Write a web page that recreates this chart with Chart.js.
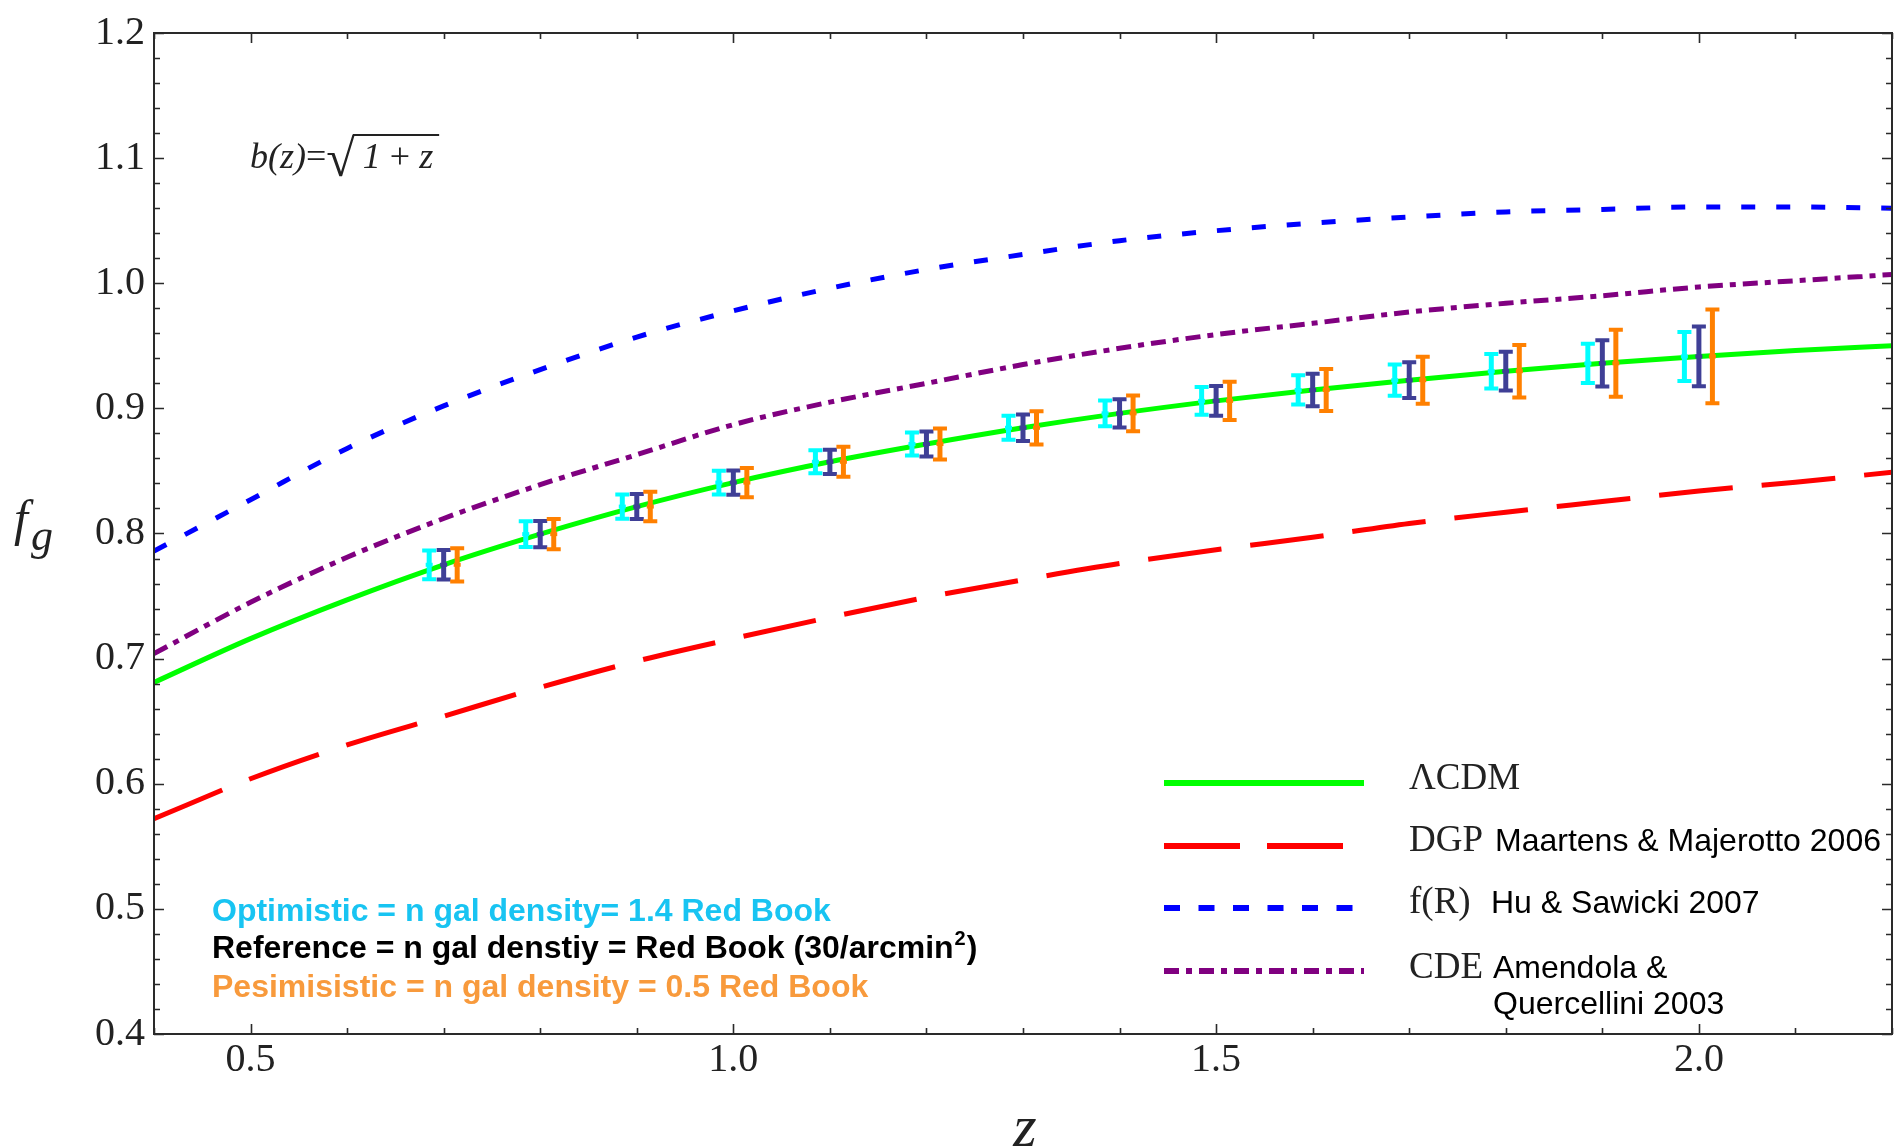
<!DOCTYPE html>
<html>
<head>
<meta charset="utf-8">
<title>Growth rate f_g versus redshift</title>
<script src="https://cdn.jsdelivr.net/npm/chart.js@4.4.1/dist/chart.umd.min.js"></script>
<style>
  html, body { margin: 0; padding: 0; background: #ffffff; }
  canvas { display: block; }
</style>
</head>
<body>
<canvas id="fgChart" width="1895" height="1148"></canvas>
<script>
const zGrid = [0.4, 0.5, 0.6, 0.7, 0.8, 0.9, 1.0, 1.1, 1.2, 1.3, 1.4, 1.5, 1.6, 1.7, 1.8, 1.9, 2.0, 2.1, 2.2];

// f_g for each model
const lcdm = [0.681, 0.716, 0.747, 0.775, 0.7995, 0.8215, 0.8407, 0.8573, 0.8715, 0.8845, 0.896, 0.906, 0.9147, 0.9225, 0.9297, 0.936, 0.9415, 0.9462, 0.950];
const dgp  = [0.572, 0.604, 0.631, 0.654, 0.677, 0.698, 0.716, 0.733, 0.749, 0.763, 0.776, 0.787, 0.797, 0.808, 0.817, 0.8255, 0.834, 0.841, 0.849];
const fR   = [0.786, 0.827, 0.868, 0.902, 0.931, 0.957, 0.978, 0.996, 1.011, 1.023, 1.034, 1.042, 1.048, 1.053, 1.057, 1.059, 1.061, 1.061, 1.060];
const cde  = [0.704, 0.745, 0.781, 0.812, 0.839, 0.863, 0.887, 0.905, 0.920, 0.935, 0.948, 0.959, 0.968, 0.977, 0.984, 0.990, 0.997, 1.002, 1.007];

// forecast error bars (centred on LCDM), half widths
const zErr = [0.7, 0.8, 0.9, 1.0, 1.1, 1.2, 1.3, 1.4, 1.5, 1.6, 1.7, 1.8, 1.9, 2.0];
const errCentre      = [0.775, 0.7995, 0.8215, 0.8407, 0.8573, 0.8715, 0.8845, 0.896, 0.906, 0.9147, 0.9225, 0.9297, 0.936, 0.9415];
const errOptimistic  = [0.0115, 0.0103, 0.0097, 0.0095, 0.0092, 0.0092, 0.0096, 0.0102, 0.0110, 0.0117, 0.0125, 0.0138, 0.0157, 0.0196];
const errReference   = [0.0118, 0.0105, 0.0100, 0.0097, 0.0097, 0.0100, 0.0106, 0.0112, 0.0119, 0.0130, 0.0143, 0.0155, 0.0185, 0.0239];
const errPessimistic = [0.0133, 0.0120, 0.0118, 0.0117, 0.0120, 0.0124, 0.0133, 0.0142, 0.0152, 0.0167, 0.0188, 0.0210, 0.0268, 0.0375];

// axis ticks
const xTickValues = [0.5, 1.0, 1.5, 2.0];
const yTickValues = [0.4, 0.5, 0.6, 0.7, 0.8, 0.9, 1.0, 1.1, 1.2];

// legend and notes
const modelNames = ['ΛCDM', 'DGP', 'f(R)', 'CDE'];
const modelRefs = [[], ['Maartens & Majerotto 2006'], ['Hu & Sawicki 2007'], ['Amendola &', 'Quercellini 2003']];
const surveyNotes = [
    'Optimistic = n gal density= 1.4 Red Book',
    'Reference = n gal denstiy = Red Book (30/arcmin',
    'Pesimisistic = n gal density = 0.5 Red Book'
];

const SERIF = '"Liberation Serif", "Times New Roman", serif';
const SANS = '"Liberation Sans", Arial, sans-serif';

const palette = {
    lcdm: '#00ff00',
    dgp: '#ff0000',
    fR: '#0000ff',
    cde: '#800080',
    optimistic: '#00ffff',
    reference: '#3f3f96',
    pessimistic: '#ff8000',
    optText: '#18c4f2',
    pesText: '#f89a3c',
    axis: '#2a2a2a'
};

const dashes = {
    lcdm: [],
    dgp: [74, 29],
    fR: [14, 21],
    cde: [15, 7, 6, 7]
};

function curve(label, values, color, dash) {
    return {
        label: label,
        data: zGrid.map((z, i) => ({ x: z, y: values[i] })),
        borderColor: color,
        borderWidth: 5,
        borderDash: dash,
        borderCapStyle: 'butt',
        pointRadius: 0,
        fill: false,
        cubicInterpolationMode: 'monotone'
    };
}

// box frame with inward ticks on all four sides
const frameTicks = {
    id: 'frameTicks',
    afterDraw(chart) {
        const { ctx, chartArea: a, scales: { x, y } } = chart;
        ctx.save();
        ctx.strokeStyle = palette.axis;
        ctx.lineWidth = 2;
        ctx.strokeRect(a.left, a.top, a.right - a.left, a.bottom - a.top);
        ctx.lineWidth = 1.6;
        ctx.beginPath();
        for (let i = 0; i <= 18; i++) {
            const px = Math.round(x.getPixelForValue(0.4 + i * 0.1)) + 0.5;
            const len = (i % 5 === 1) ? 10 : 6;
            ctx.moveTo(px, a.bottom); ctx.lineTo(px, a.bottom - len);
            ctx.moveTo(px, a.top); ctx.lineTo(px, a.top + len);
        }
        for (let j = 0; j <= 40; j++) {
            const py = Math.round(y.getPixelForValue(0.4 + j * 0.02)) + 0.5;
            const len = (j % 5 === 0) ? 10 : 6;
            ctx.moveTo(a.left, py); ctx.lineTo(a.left + len, py);
            ctx.moveTo(a.right, py); ctx.lineTo(a.right - len, py);
        }
        ctx.stroke();
        ctx.restore();
    }
};

// three survey scenarios drawn side by side at each redshift
const errorBars = {
    id: 'errorBars',
    afterDatasetsDraw(chart) {
        const { ctx, scales: { x, y } } = chart;
        const sets = [
            { half: errOptimistic, dz: -0.015, color: palette.optimistic },
            { half: errReference, dz: 0, color: palette.reference },
            { half: errPessimistic, dz: 0.014, color: palette.pessimistic }
        ];
        ctx.save();
        sets.forEach(s => {
            ctx.strokeStyle = s.color;
            ctx.fillStyle = s.color;
            zErr.forEach((z, i) => {
                const px = x.getPixelForValue(z + s.dz);
                const top = y.getPixelForValue(errCentre[i] + s.half[i]);
                const bot = y.getPixelForValue(errCentre[i] - s.half[i]);
                const mid = y.getPixelForValue(errCentre[i]);
                ctx.lineWidth = 5;
                ctx.beginPath();
                ctx.moveTo(px, top); ctx.lineTo(px, bot);
                ctx.stroke();
                ctx.lineWidth = 4;
                ctx.beginPath();
                ctx.moveTo(px - 7, top); ctx.lineTo(px + 7, top);
                ctx.moveTo(px - 7, bot); ctx.lineTo(px + 7, bot);
                ctx.stroke();
                ctx.fillRect(px - 3.5, mid - 2, 7, 4);
            });
        });
        ctx.restore();
    }
};

const legendBox = {
    id: 'legendBox',
    afterDraw(chart) {
        const { ctx } = chart;
        const lineY = [783, 846, 908, 971];
        const textY = [789, 851, 913, 978];
        const refX = [0, 1495, 1491, 1493];
        const keys = ['lcdm', 'dgp', 'fR', 'cde'];
        const legendDash = { lcdm: [], dgp: [76, 27], fR: [16, 18.5], cde: [15, 7, 6, 7] };
        ctx.save();
        keys.forEach((k, i) => {
            ctx.strokeStyle = palette[k];
            ctx.lineWidth = 6;
            ctx.lineCap = 'butt';
            ctx.setLineDash(legendDash[k]);
            ctx.beginPath();
            ctx.moveTo(1164, lineY[i]);
            ctx.lineTo(1364, lineY[i]);
            ctx.stroke();
            ctx.setLineDash([]);

            ctx.fillStyle = '#222';
            ctx.textBaseline = 'alphabetic';
            ctx.textAlign = 'left';
            ctx.font = '37px ' + SERIF;
            ctx.fillText(modelNames[i], 1409, textY[i]);
            ctx.fillStyle = '#000';
            ctx.font = '32px ' + SANS;
            modelRefs[i].forEach((t, j) => ctx.fillText(t, refX[i], textY[i] + j * 36));
        });
        ctx.restore();
    }
};

const textNotes = {
    id: 'textNotes',
    afterDraw(chart) {
        const { ctx } = chart;
        ctx.save();
        ctx.textBaseline = 'alphabetic';
        ctx.textAlign = 'left';

        // survey notes, bottom left
        const colors = [palette.optText, '#000000', palette.pesText];
        const base = [921, 958, 997];
        ctx.font = 'bold 32px ' + SANS;
        surveyNotes.forEach((t, i) => {
            ctx.fillStyle = colors[i];
            ctx.fillText(t, 212, base[i]);
            if (i === 1) {
                let xx = 212 + ctx.measureText(t).width;
                ctx.font = 'bold 20px ' + SANS;
                ctx.fillText('2', xx + 1, base[i] - 13);
                xx += ctx.measureText('2').width + 2;
                ctx.font = 'bold 32px ' + SANS;
                ctx.fillText(')', xx, base[i]);
            }
        });

        // bias annotation b(z) = sqrt(1+z)
        ctx.fillStyle = '#222';
        let bx = 250;
        const by = 168;
        ctx.font = 'italic 36px ' + SERIF;
        ctx.fillText('b(z)', bx, by);
        bx += ctx.measureText('b(z)').width;
        ctx.font = '36px ' + SERIF;
        ctx.fillText('=', bx, by);
        bx += ctx.measureText('=').width;
        ctx.font = '52px ' + SERIF;
        ctx.fillText('\u221A', bx, by + 8);
        bx += ctx.measureText('\u221A').width;
        const olStart = bx - 2;
        bx += 8;
        ctx.font = 'italic 36px ' + SERIF;
        ctx.fillText('1', bx, by);
        bx += ctx.measureText('1').width;
        ctx.font = '36px ' + SERIF;
        ctx.fillText(' + ', bx, by);
        bx += ctx.measureText(' + ').width;
        ctx.font = 'italic 36px ' + SERIF;
        ctx.fillText('z', bx, by);
        bx += ctx.measureText('z').width;
        ctx.strokeStyle = '#222';
        ctx.lineWidth = 1.8;
        ctx.beginPath();
        ctx.moveTo(olStart, 135);
        ctx.lineTo(bx + 6, 135);
        ctx.stroke();

        // axis titles
        ctx.font = 'italic 50px ' + SERIF;
        ctx.fillText('f', 14, 535);
        ctx.font = 'italic 44px ' + SERIF;
        ctx.fillText('g', 31, 550);
        ctx.font = 'italic 60px ' + SERIF;
        ctx.textAlign = 'center';
        ctx.fillText('z', 1025, 1146);
        ctx.restore();
    }
};

new Chart(document.getElementById('fgChart'), {
    type: 'line',
    data: {
        datasets: [
            curve('ΛCDM', lcdm, palette.lcdm, dashes.lcdm),
            curve('DGP', dgp, palette.dgp, dashes.dgp),
            curve('f(R)', fR, palette.fR, dashes.fR),
            curve('CDE', cde, palette.cde, dashes.cde)
        ]
    },
    options: {
        responsive: false,
        animation: false,
        devicePixelRatio: 1,
        layout: { padding: { top: 29, right: 3, left: 0, bottom: 0 } },
        plugins: {
            legend: { display: false },
            tooltip: { enabled: false }
        },
        scales: {
            x: {
                type: 'linear',
                min: 0.4,
                max: 2.2,
                grid: { display: false, drawTicks: false },
                border: { display: false },
                afterBuildTicks: s => { s.ticks = xTickValues.map(v => ({ value: v })); },
                afterFit: s => { s.height = 114; },
                ticks: {
                    font: { family: SERIF, size: 40 },
                    color: '#222',
                    padding: 2,
                    maxRotation: 0,
                    callback: v => Number(v).toFixed(1)
                }
            },
            y: {
                type: 'linear',
                min: 0.4,
                max: 1.2,
                grid: { display: false, drawTicks: false },
                border: { display: false },
                afterBuildTicks: s => { s.ticks = yTickValues.map(v => ({ value: v })); },
                afterFit: s => { s.width = 154; },
                ticks: {
                    font: { family: SERIF, size: 40 },
                    color: '#222',
                    padding: 9,
                    callback: v => Number(v).toFixed(1)
                }
            }
        }
    },
    plugins: [errorBars, frameTicks, legendBox, textNotes]
});
</script>
</body>
</html>
